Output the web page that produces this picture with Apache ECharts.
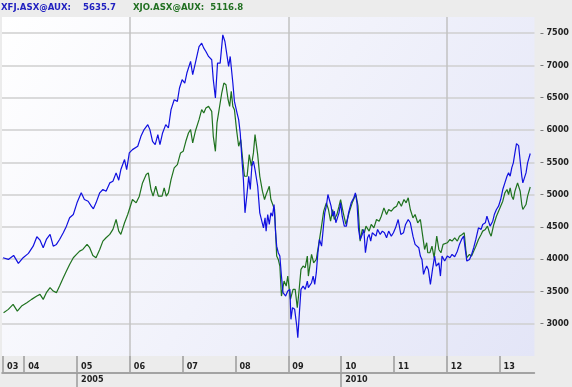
<!DOCTYPE html>
<html>
<head>
<meta charset="utf-8">
<script src="https://cdn.jsdelivr.net/npm/echarts@6/dist/echarts.min.js"></script>
<style>
html,body{margin:0;padding:0;background:#ececec;}
#chart{width:572px;height:387px;}
</style>
</head>
<body>
<div id="chart"></div>
<script>
// ---- data (decimal year, index level) ----
const xfjYears = [2003.60,2003.70,2003.80,2003.89,2003.98,2004.08,2004.17,2004.24,2004.30,2004.36,2004.42,2004.49,2004.55,2004.61,2004.67,2004.74,2004.80,2004.86,2004.93,2005.00,2005.08,2005.14,2005.21,2005.27,2005.31,2005.36,2005.43,2005.49,2005.55,2005.62,2005.68,2005.74,2005.79,2005.83,2005.90,2005.94,2005.99,
  2006.05,2006.15,2006.21,2006.27,2006.34,2006.38,2006.43,2006.48,2006.53,2006.57,2006.62,2006.68,2006.73,2006.78,2006.84,2006.90,2006.94,2006.99,2007.04,2007.08,2007.15,2007.19,2007.24,2007.31,2007.36,2007.40,2007.44,2007.49,2007.55,2007.58,2007.62,2007.66,2007.71,2007.76,2007.80,2007.83,2007.87,2007.90,2007.95,2007.98,
  2008.03,2008.06,2008.09,2008.12,2008.15,2008.18,2008.22,2008.25,2008.28,2008.31,2008.34,2008.37,2008.42,2008.46,2008.49,2008.53,2008.56,2008.58,2008.61,2008.64,2008.67,2008.70,2008.73,2008.76,2008.78,2008.81,2008.84,2008.87,2008.90,2008.95,2008.99,2009.03,2009.05,2009.08,2009.12,2009.16,2009.18,2009.21,2009.24,2009.28,2009.32,2009.36,
  2009.38,2009.44,2009.47,2009.50,2009.53,2009.56,2009.59,2009.63,2009.66,2009.69,2009.72,2009.75,2009.78,2009.81,2009.84,2009.87,2009.90,2009.93,2009.96,2009.99,2010.02,2010.06,2010.10,2010.14,2010.19,2010.24,2010.27,2010.30,2010.33,2010.36,2010.40,2010.43,2010.46,2010.50,2010.53,2010.56,2010.59,2010.62,2010.66,2010.69,2010.74,2010.78,2010.82,2010.86,2010.90,2010.95,2010.99,2011.03,2011.08,2011.13,2011.18,2011.22,2011.27,2011.31,2011.36,2011.40,2011.43,2011.47,2011.50,2011.53,2011.56,2011.59,2011.62,2011.65,2011.69,2011.73,2011.77,2011.80,
  2011.85,2011.88,2011.91,2011.96,2012.01,2012.06,2012.10,2012.15,2012.20,2012.24,2012.28,2012.32,2012.35,2012.38,2012.43,2012.47,2012.51,2012.55,2012.60,2012.65,2012.68,2012.73,2012.76,2012.79,2012.82,2012.87,2012.90,2012.94,2012.98,2013.02,2013.06,2013.10,2013.14,2013.17,2013.20,2013.23,2013.26,2013.29,2013.32,2013.36,2013.39,2013.42,2013.44,2013.47,2013.50,2013.53,2013.58];
const xfjValues = [4022,3996,4058,3934,4022,4089,4201,4347,4294,4177,4305,4383,4201,4228,4305,4408,4511,4640,4691,4872,5027,4923,4897,4820,4779,4872,5027,5078,5052,5181,5206,5336,5222,5387,5542,5387,5645,
  5696,5748,5902,6006,6083,6006,5825,5774,5928,5774,5954,6083,6031,6315,6469,6443,6650,6779,6727,6882,7062,6856,7036,7293,7345,7268,7216,7139,7088,6779,6495,7036,7036,7474,7371,7397,6985,7139,6727,6443,
  6263,6160,5954,5568,5232,4717,5027,5284,5078,5439,5516,5387,5129,4717,4691,4485,4640,4434,4691,4537,4717,4665,4846,4408,4201,4099,4047,3738,3480,3428,3506,3532,3068,3249,3223,2965,2785,3171,3532,3583,3532,3660,
  3558,3635,3738,3609,3790,4099,4305,4201,4460,4717,4820,5001,5027,4820,4665,4743,4563,4640,4717,4872,4665,4511,4511,4717,4872,4950,5027,4872,4460,4305,4383,4460,4099,4331,4383,4279,4408,4434,4356,4460,4383,4434,4408,4331,4434,4356,4408,4485,4614,4383,4408,4537,4614,4563,4356,4228,4201,4177,4047,3996,3764,3841,3893,3841,3609,3841,4047,3893,
  3944,3738,4047,3970,4047,4022,4073,4037,4124,4228,4305,4356,4150,3970,3996,4073,4177,4305,4485,4460,4537,4563,4665,4640,4511,4588,4691,4769,4820,4923,5078,5181,5284,5336,5284,5413,5490,5645,5789,5758,5516,5284,5181,5258,5336,5490,5635.7];

const xjoYears = [2003.61,2003.70,2003.79,2003.87,2003.95,2004.05,2004.14,2004.24,2004.30,2004.36,2004.42,2004.49,2004.55,2004.61,2004.67,2004.74,2004.80,2004.86,2004.93,2004.99,2005.05,2005.11,2005.19,2005.24,2005.30,2005.36,2005.43,2005.49,2005.55,2005.62,2005.68,2005.74,2005.79,2005.83,2005.90,2005.96,
  2006.05,2006.12,2006.18,2006.24,2006.31,2006.35,2006.40,2006.44,2006.49,2006.54,2006.61,2006.65,2006.69,2006.73,2006.78,2006.84,2006.90,2006.96,2007.01,2007.06,2007.11,2007.15,2007.19,2007.24,2007.31,2007.36,2007.40,2007.44,2007.49,2007.52,2007.55,2007.58,2007.62,2007.65,2007.69,2007.74,2007.78,2007.82,2007.86,2007.89,2007.92,2007.95,2007.98,2008.02,2008.06,2008.10,2008.13,2008.17,
  2008.22,2008.26,2008.30,2008.34,2008.37,2008.42,2008.46,2008.51,2008.55,2008.58,2008.61,2008.64,2008.67,2008.70,2008.74,2008.78,2008.81,2008.84,2008.87,2008.92,2008.96,2008.99,2009.04,2009.09,2009.13,2009.17,2009.20,2009.24,2009.28,2009.32,2009.36,
  2009.38,2009.44,2009.48,2009.53,2009.57,2009.62,2009.67,2009.72,2009.76,2009.80,2009.84,2009.87,2009.92,2009.96,2009.99,2010.04,2010.09,2010.12,2010.16,2010.21,2010.25,2010.28,2010.32,2010.36,2010.40,2010.44,2010.47,2010.53,2010.57,2010.62,2010.67,2010.72,2010.76,2010.81,2010.86,2010.90,2010.95,2011.00,2011.05,2011.09,2011.14,2011.19,2011.23,2011.27,2011.31,2011.36,2011.40,2011.45,2011.50,2011.54,2011.58,2011.62,2011.64,2011.68,2011.72,2011.76,2011.81,
  2011.85,2011.89,2011.93,2012.01,2012.06,2012.10,2012.15,2012.20,2012.24,2012.29,2012.33,2012.36,2012.38,2012.43,2012.47,2012.51,2012.55,2012.60,2012.65,2012.68,2012.73,2012.77,2012.81,2012.84,2012.89,2012.94,2012.98,2013.02,2013.06,2013.10,2013.14,2013.17,2013.20,2013.23,2013.26,2013.29,2013.34,2013.36,2013.39,2013.42,2013.44,2013.47,2013.50,2013.53,2013.58];
const xjoValues = [3171,3222,3300,3196,3274,3326,3377,3428,3454,3377,3481,3558,3506,3481,3583,3712,3815,3918,4022,4073,4124,4150,4228,4177,4058,4022,4150,4279,4331,4383,4460,4614,4433,4383,4563,4691,
  4923,4872,4975,5181,5310,5336,5078,4975,5129,4975,4975,5104,4975,5027,5232,5413,5464,5645,5670,5825,5954,6006,5799,5980,6160,6315,6264,6341,6366,6392,6289,5902,5670,6109,6315,6573,6727,6701,6469,6366,6598,6366,6315,6006,5748,5851,5593,5284,
  5284,5619,5439,5645,5928,5619,5284,5052,4923,5001,4975,5129,4923,4897,4769,4047,3996,3893,3428,3660,3583,3738,3377,3532,3532,3250,3480,3841,3893,3867,4047,
  3738,4073,3944,3996,4201,4460,4743,4872,4769,4588,4769,4614,4691,4820,4923,4717,4537,4511,4743,4872,4950,5001,4820,4279,4460,4408,4511,4434,4537,4485,4614,4588,4665,4794,4691,4769,4743,4794,4820,4897,4820,4923,4872,4950,4769,4640,4691,4563,4614,4383,4150,4253,4099,4099,4201,4022,4356,
  4150,4099,4228,4253,4305,4279,4331,4279,4356,4383,4408,4150,4022,4073,4047,4124,4201,4305,4383,4434,4460,4511,4408,4356,4537,4665,4743,4820,4897,5027,5078,5001,5104,4975,4923,5052,5181,5206,5052,4846,4769,4769,4846,4975,5116.8];

const seriesNames = ['XFJ.ASX@AUX:', 'XJO.ASX@AUX:'];
const yearTicks  = [2003.6, 2004, 2005, 2006, 2007, 2008, 2009, 2010, 2011, 2012, 2013];
const yearLabels = ['03','04','05','06','07','08','09','10','11','12','13'];
const decadeTicks  = [2005, 2010];
const decadeLabels = ['2005','2010'];
const vGridYears = [2006, 2009, 2012];

// ---- chart ----
const zip = (a, b) => a.map((v, i) => [v, b[i]]);
const lastXfj = xfjValues[xfjValues.length - 1].toFixed(1);
const lastXjo = xjoValues[xjoValues.length - 1].toFixed(1);
const FONT = "'DejaVu Sans Condensed','DejaVu Sans',sans-serif";
const lab = (ticks, labels) => v => {
  const i = ticks.findIndex(t => Math.abs(t - v) < 1e-6);
  return i >= 0 ? labels[i] : '';
};

const chart = echarts.init(document.getElementById('chart'), null, {renderer: 'canvas'});
chart.setOption({
  backgroundColor: '#ececec',
  animation: false,
  title: {
    left: 1, top: 3, padding: 0,
    text: '{a|' + seriesNames[0] + '}{b|' + lastXfj + '}{c|' + seriesNames[1] + '}{d|' + lastXjo + '}',
    textStyle: {
      fontFamily: FONT, fontSize: 9.5,
      rich: {
        a: {color: '#2020c0', fontFamily: FONT, fontSize: 9.5, fontWeight: 'bold'},
        b: {color: '#2020c0', fontFamily: FONT, fontSize: 9.5, fontWeight: 'bold', padding: [0, 0, 0, 12]},
        c: {color: '#217021', fontFamily: FONT, fontSize: 9.5, fontWeight: 'bold', padding: [0, 0, 0, 17]},
        d: {color: '#217021', fontFamily: FONT, fontSize: 9.5, fontWeight: 'bold', padding: [0, 0, 0, 6]}
      }
    }
  },
  grid: {
    left: 2, right: 34, top: 17, bottom: 31,
    show: true, borderWidth: 0,
    backgroundColor: new echarts.graphic.LinearGradient(0, 0, 1, 1, [
      {offset: 0, color: '#ffffff'},
      {offset: 1, color: '#e3e5f7'}
    ])
  },
  xAxis: [{
    type: 'value', min: 2003.58, max: 2013.66, position: 'bottom',
    axisLine: {show: false},
    axisTick: {show: true, customValues: yearTicks, length: 16, lineStyle: {color: '#9a9a9a', width: 1.5}},
    axisLabel: {
      customValues: yearTicks, formatter: lab(yearTicks, yearLabels),
      align: 'left', margin: 6, padding: [0, 0, 0, 4],
      fontFamily: FONT, fontSize: 9, fontWeight: 'bold', color: '#222'
    },
    splitLine: {show: false}
  }, {
    type: 'value', min: 2003.58, max: 2013.66, position: 'bottom', offset: 17,
    axisLine: {show: true, lineStyle: {color: '#8a8a8a', width: 1.5}},
    axisTick: {show: true, customValues: decadeTicks, length: 14, lineStyle: {color: '#9a9a9a', width: 1.5}},
    axisLabel: {
      customValues: decadeTicks, formatter: lab(decadeTicks, decadeLabels),
      align: 'left', margin: 2, padding: [0, 0, 0, 4],
      fontFamily: FONT, fontSize: 9, fontWeight: 'bold', color: '#222'
    },
    splitLine: {show: false}
  }],
  yAxis: {
    type: 'value', position: 'right', min: 2500, max: 7750, interval: 500, offset: 6,
    axisLine: {show: false},
    axisTick: {show: true, length: 3, lineStyle: {color: '#777'}},
    axisLabel: {
      showMinLabel: false, showMaxLabel: false, margin: 6,
      formatter: v => String(v),
      fontFamily: FONT, fontSize: 9, fontWeight: 'bold', color: '#222'
    },
    splitLine: {show: true, showMinLine: false, showMaxLine: false, lineStyle: {color: '#cfcfcf', width: 1.5}}
  },
  series: [{
    name: seriesNames[1], type: 'line', xAxisIndex: 0,
    data: zip(xjoYears, xjoValues),
    showSymbol: false, symbol: 'none',
    lineStyle: {color: '#1f721f', width: 1.2},
    markLine: {
      silent: true, symbol: 'none', z: 1,
      label: {show: false},
      lineStyle: {color: '#c2c2c2', width: 1.5, type: 'solid'},
      data: vGridYears.map(v => ({xAxis: v}))
    }
  }, {
    name: seriesNames[0], type: 'line', xAxisIndex: 0,
    data: zip(xfjYears, xfjValues),
    showSymbol: false, symbol: 'none',
    lineStyle: {color: '#1010e0', width: 1.2}
  }]
});
</script>
</body>
</html>
